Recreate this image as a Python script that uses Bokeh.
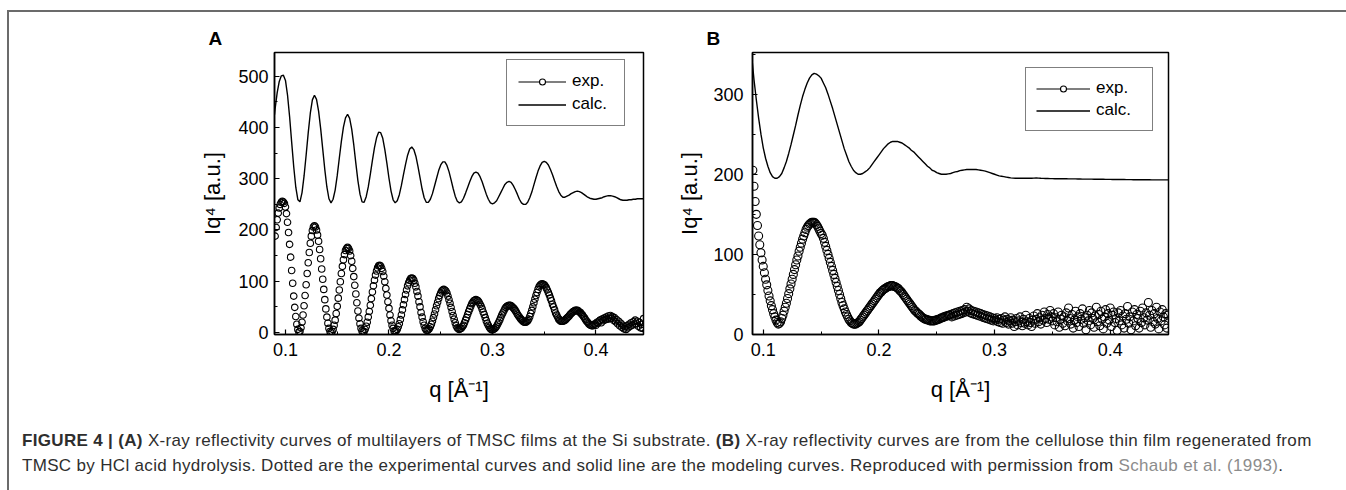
from bokeh.plotting import figure
from bokeh.models import Range1d, SingleIntervalTicker, Legend, LegendItem, Div
from bokeh.layouts import row, column
from bokeh.embed import file_html
from bokeh.resources import INLINE

FONT = "Liberation Sans"

# ---------------- data: panel A (multilayer TMSC) ----------------
EXP_A_Q0 = 0.090      # first measured q (1/A)
EXP_A_DQ = 0.001      # measurement step
exp_a_y = [
    188, 205, 220, 233, 243, 250, 254, 256, 255,
    252, 245, 232, 215, 195, 172, 147, 121, 96, 71, 49, 31, 16, 6, 1,
    2, 9, 20, 34, 52, 72, 93, 115, 136, 156, 174, 188, 199, 206, 208,
    206, 200, 190, 178, 162, 144, 124, 104, 84, 64, 46, 30, 18, 8, 2, 0,
    2, 6, 14, 24, 37, 51, 67, 83, 99, 115, 129, 142, 152, 160, 164, 166,
    164, 159, 150, 139, 125, 109, 92, 75, 58, 42, 28, 17, 8, 3, 1,
    2, 6, 12, 20, 30, 41, 53, 66, 79, 91, 102, 112, 120, 126, 130, 131,
    130, 125, 119, 110, 99, 86, 73, 60, 47, 34, 23, 14, 8, 3, 2,
    3, 6, 11, 17, 25, 34, 44, 54, 64, 74, 83, 91, 97, 102, 105, 106,
    105, 102, 96, 89, 80, 71, 60, 50, 39, 30, 21, 14, 8, 5, 4,
    5, 7, 11, 16, 22, 29, 36, 44, 52, 59, 66, 72, 77, 81, 83, 84,
    83, 81, 77, 71, 64, 57, 49, 41, 33, 26, 19, 13, 9, 7, 6,
    7, 8, 11, 14, 19, 24, 29, 35, 41, 46, 51, 56, 59, 62, 63, 64,
    63, 62, 59, 55, 51, 46, 40, 35, 29, 23, 18, 14, 10, 7, 6, 5,
    6, 7, 9, 12, 16, 20, 24, 29, 34, 38, 42, 46, 49, 51, 52, 53,
    53, 52, 50, 48, 46, 43, 40, 36, 33, 30, 27, 25, 23, 21, 20, 20,
    21, 23, 26, 31, 37, 43, 50, 58, 65, 72, 78, 84, 89, 92, 94, 95,
    94, 93, 91, 87, 83, 78, 73, 67, 62, 55, 50, 44, 38, 34, 30, 26, 24, 22, 22,
    22, 23, 24, 26, 28, 30, 32, 35, 37, 39, 41, 42, 43, 43,
    43, 42, 40, 39, 36, 34, 31, 28, 25, 22, 20, 17, 15, 14, 13, 13,
    15, 17, 14, 20, 18, 22, 24, 19, 26, 23, 28, 25, 30, 26, 32, 27, 33, 28, 31, 24,
    29, 21, 25, 17, 22, 13, 18, 10, 14, 7, 11, 6, 13, 9, 16, 12, 19, 14, 21, 16,
    24, 17, 22, 12, 20, 9, 16, 8, 27,
]

CALC_A_EDGE = (0.0894, 425)   # calculated curve at the left frame edge
CALC_A_Q0 = 0.090
CALC_A_DQ = 0.002
calc_a_y = [
    437, 468, 490, 501, 502,
    492, 463, 421, 371, 323, 283, 259,
    255, 273, 306, 347, 390, 428, 454, 463,
    455, 432, 398, 358, 318, 284, 261, 253,
    260, 278, 306, 340, 373, 401, 419, 426,
    418, 397, 366, 330, 296, 270, 255,
    254, 265, 284, 309, 336, 361, 380, 391,
    390, 379, 357, 330, 301, 276, 259, 253,
    257, 269, 287, 308, 328, 346, 358, 362,
    357, 344, 324, 302, 280, 263, 254,
    254, 260, 271, 286, 301, 316, 327, 333,
    333, 326, 314, 298, 281, 266, 256, 253,
    255, 262, 272, 283, 294, 304, 311, 313,
    311, 304, 294, 282, 270, 260, 253, 251,
    253, 257, 265, 273, 281, 289, 293, 295,
    293, 287, 279, 270, 260, 253, 250,
    250, 254, 263, 274, 288, 302, 315, 325, 332, 334,
    332, 327, 318, 308, 296, 285, 275, 268, 264,
    264, 266, 268, 271, 273, 275, 276,
    275, 273, 270, 267, 264, 262, 261, 260,
    260, 261, 262, 263, 265, 266, 267, 267,
    266, 265, 263, 261, 259, 258, 258,
    258, 259, 259, 260, 260, 261, 261, 261, 261,
]

# ---------------- data: panel B (regenerated cellulose) ----------------
EXP_B_Q0 = 0.091
EXP_B_DQ = 0.001
exp_b_y = [
    205, 185, 166, 150, 136, 123, 112, 102, 93, 85, 77, 69, 62, 55, 48, 42, 36, 31, 26, 22, 18, 15,
    13, 14, 16, 20, 24, 29, 34, 39, 45, 51, 57, 63, 69, 75, 81, 87, 93, 98, 104, 109, 114, 119,
    123, 127, 131, 134, 136, 138, 139, 140, 140, 140, 139, 137, 135, 132, 129, 126, 124, 120,
    115, 110, 105, 100, 95, 90, 85, 80, 75, 70, 65, 60, 55, 50, 45, 40, 36, 32, 28, 25, 22, 19,
    17, 15, 14, 13, 13, 13, 14,
    15, 16, 18, 20, 22, 24, 26, 28, 30, 32,
    34, 36, 38, 40, 42, 44, 46, 48, 50, 52,
    53, 55, 56, 57, 58, 59, 60, 60, 61, 61,
    61, 60, 60, 59, 58, 57, 55, 54, 52, 50,
    48, 46, 44, 42, 40, 38, 36, 34, 32, 30,
    29, 27, 26, 25, 23, 22, 21, 20, 19, 19,
    18, 18, 17, 17, 17, 17, 17, 18, 18, 19,
    19, 20, 21, 21, 22, 22, 23, 23, 24, 24,
    25, 22, 26, 23, 27, 24, 28, 25, 29, 26,
    30, 27, 31, 28, 34, 29, 32, 27, 30, 26,
    29, 25, 28, 24, 27, 23, 26, 22, 25, 21,
    24, 20, 23, 19, 22, 18, 21, 17, 20, 18,
    21, 16, 19, 15, 20, 14, 18, 22, 15, 19,
    13, 17, 21, 14, 18, 10, 16, 20, 12, 17,
    22, 15, 11, 19, 14, 24, 16, 12, 20, 15,
    10, 18, 23, 14, 19, 26, 16, 21, 13, 24,
    18, 28, 20, 15, 25, 19, 30, 22, 17, 26,
    12, 21, 16, 28, 9, 19, 24, 14, 22, 11,
    27, 17, 33, 20, 13, 25, 8, 18, 29, 15,
    22, 10, 26, 19, 32, 14, 21, 6, 24, 17,
    30, 12, 27, 20, 9, 23, 34, 16, 25, 11,
    29, 19, 7, 22, 31, 14, 26, 18, 33, 10,
    24, 28, 15, 20, 5, 27, 17, 30, 12, 23,
    8, 26, 19, 35, 14, 22, 6, 28, 17, 31,
    11, 25, 20, 8, 29, 15, 33, 21, 12, 27,
    18, 40, 24, 9, 30, 16, 26, 13, 34, 20,
    7, 28, 17, 31, 22, 12, 26, 8, 24,
]

CALC_B_EDGE = (0.0905, 340)
CALC_B_Q0 = 0.092
CALC_B_DQ = 0.002
calc_b_y = [
    318, 293, 270, 250, 233, 220, 210, 202, 197, 195, 195,
    197, 201, 208, 216, 226, 237, 249, 261, 274, 286, 297, 306, 314, 320, 324, 326,
    325, 323, 320, 314, 308, 300, 291, 282, 272, 262, 252, 242, 232, 224, 216, 210, 205, 202, 200,
    200, 201, 203, 205, 208, 212, 216, 220, 224, 228, 232, 235, 238, 240, 241, 241,
    241, 240, 239, 237, 235, 233, 230, 228, 225, 222, 219, 216, 213, 210, 208, 205, 204, 202, 201, 200, 200,
    200, 200.5, 201, 202, 203, 203.5, 204.5, 205, 205.5, 206, 206, 206, 206,
    206, 205.5, 205, 204.5, 204, 203, 202, 201, 200, 199, 198, 197.5, 197, 196.5, 196, 195.5, 195.2, 195, 195, 195,
    195, 195, 195, 195, 195, 195.2, 195.3, 195.2,
    195, 194.9, 194.8, 194.7, 194.6, 194.6, 194.5, 194.5, 194.5, 194.5,
    194.4, 194.4, 194.3, 194.3, 194.2, 194.2, 194.1, 194.1, 194, 194,
    194, 193.9, 193.9, 193.8, 193.8, 193.8, 193.7, 193.7, 193.6, 193.6,
    193.6, 193.5, 193.5, 193.5, 193.4, 193.4, 193.4, 193.3, 193.3, 193.3,
    193.2, 193.2, 193.2, 193.2, 193.1, 193.1, 193.1, 193.1, 193, 193,
    193, 193, 193, 193, 193, 193,
]

X_TICK_STEP = 0.1
Y_TICK_STEP = 100
X_LABEL = "q [Å⁻¹]"
Y_LABEL = "Iq⁴ [a.u.]"
LEGEND_LABELS = ["exp.", "calc."]

CAPTION = (
    '<div style="font-family:\'Liberation Sans\',Arial,sans-serif;font-size:17px;'
    'letter-spacing:0.33px;line-height:25px;color:#2e2e2e;padding:3px 0 0 13px;white-space:nowrap;">'
    '<b>FIGURE 4 | (A)</b> X-ray reflectivity curves of multilayers of TMSC films at the Si substrate. '
    '<b>(B)</b> X-ray reflectivity curves are from the cellulose thin film regenerated from<br>'
    'TMSC by HCl acid hydrolysis. Dotted are the experimental curves and solid line are the modeling curves. '
    'Reproduced with permission from <span style="color:#8c8c8c">Schaub et al. (1993)</span>.</div>'
)


def grid(q0, dq, n):
    return [round(q0 + dq * k, 4) for k in range(n)]


def make_panel(letter, width, mb_left, mb_right, mb_bottom, xr, yr,
               exp_q, exp_y, calc_q, calc_y, marker_size, title_offset,
               ylab_standoff, ytick_standoff, leg_loc, leg_glyph_w, leg_label_w,
               leg_pad, leg_spacing):
    p = figure(width=width, height=413, x_range=Range1d(*xr), y_range=Range1d(*yr),
               output_backend="svg", toolbar_location=None, title=letter,
               min_border_left=mb_left, min_border_right=mb_right,
               min_border_top=40, min_border_bottom=mb_bottom)
    p.background_fill_color = "white"
    p.border_fill_color = "white"
    p.outline_line_color = "black"
    p.outline_line_width = 1.5
    p.grid.visible = False

    p.title.text_font = FONT
    p.title.text_font_size = "19px"
    p.title.text_font_style = "bold"
    p.title.text_color = "black"
    p.title.align = "left"
    p.title.offset = title_offset
    p.title.standoff = 8

    for ax in (p.xaxis[0], p.yaxis[0]):
        ax.axis_line_color = "black"
        ax.axis_line_width = 1.5
        ax.major_tick_in = 5
        ax.major_tick_out = 0
        ax.minor_tick_in = 3
        ax.minor_tick_out = 0
        ax.major_tick_line_color = "black"
        ax.major_tick_line_width = 1.2
        ax.minor_tick_line_color = "black"
        ax.minor_tick_line_width = 1.0
        ax.major_label_text_font = FONT
        ax.major_label_text_font_size = "18px"
        ax.major_label_text_color = "black"
        ax.axis_label_text_font = FONT
        ax.axis_label_text_font_size = "22px"
        ax.axis_label_text_font_style = "normal"
        ax.axis_label_text_color = "black"

    p.xaxis.ticker = SingleIntervalTicker(interval=X_TICK_STEP, num_minor_ticks=2)
    p.yaxis.ticker = SingleIntervalTicker(interval=Y_TICK_STEP, num_minor_ticks=2)
    p.xaxis.axis_label = X_LABEL
    p.yaxis.axis_label = Y_LABEL
    p.xaxis.major_label_standoff = 8
    p.xaxis.axis_label_standoff = 18
    p.yaxis.major_label_standoff = ytick_standoff
    p.yaxis.axis_label_standoff = ylab_standoff

    calc_r = p.line(calc_q, calc_y, line_color="black", line_width=1.4)
    p.scatter(exp_q, exp_y, marker="circle", size=marker_size,
              line_color="black", line_width=1.1, fill_color=None)

    # legend-only sample glyphs, placed outside the visible ranges
    off_x, off_y = xr[0] - 1.0, yr[0] - 1000.0
    leg_line = p.line(x=[off_x, off_x - 0.1], y=[off_y, off_y],
                      line_color="black", line_width=1.2)
    leg_mark = p.scatter(x=[off_x], y=[off_y], marker="circle", line_color="black",
                         line_width=1.1, fill_color="white")
    legend = Legend(
        items=[LegendItem(label=LEGEND_LABELS[0], renderers=[leg_line, leg_mark]),
               LegendItem(label=LEGEND_LABELS[1], renderers=[calc_r])],
        location=leg_loc, margin=0, padding=leg_pad, spacing=leg_spacing,
        glyph_width=leg_glyph_w, glyph_height=15, label_height=20,
        label_width=leg_label_w, label_standoff=6,
        label_text_font=FONT, label_text_font_size="17px", label_text_color="black",
        border_line_color="black", border_line_width=1.3,
        background_fill_color="white", background_fill_alpha=1.0,
    )
    p.add_layout(legend)
    return p


exp_a_q = grid(EXP_A_Q0, EXP_A_DQ, len(exp_a_y))
calc_a_q = [CALC_A_EDGE[0]] + grid(CALC_A_Q0, CALC_A_DQ, len(calc_a_y))
calc_a_v = [CALC_A_EDGE[1]] + calc_a_y
exp_b_q = grid(EXP_B_Q0, EXP_B_DQ, len(exp_b_y))
calc_b_q = [CALC_B_EDGE[0]] + grid(CALC_B_Q0, CALC_B_DQ, len(calc_b_y))
calc_b_v = [CALC_B_EDGE[1]] + calc_b_y

pA = make_panel("A", 663, 265, 29, 89, (0.0894, 0.4459), (-4, 546.5),
                exp_a_q, exp_a_y, calc_a_q, calc_a_v, 6.5, -66,
                10, 6, (232, 208), 48, 41, 11, 3)
pB = make_panel("B", 674, 80, 178, 91, (0.0907, 0.4504), (0, 352),
                exp_b_q, exp_b_y, calc_b_q, calc_b_v, 8, -46,
                8, 9, (273, 203), 54, 46, 10, 2)

gray = "#6b6b6b"
blank_top = Div(text="", width=1346, height=10, margin=0)
blank_left = Div(text="", width=7, height=480, margin=0)
vline = Div(text="", width=2, height=480, margin=0, styles={"background-color": gray})
hline = Div(text="", width=1337, height=2, margin=0, styles={"background-color": gray})
caption = Div(text=CAPTION, width=1337, height=65, margin=0)

layout = column(blank_top,
                row(blank_left, vline, column(hline, row(pA, pB), caption)))

open("out.html", "w").write(file_html(layout, INLINE, title="Figure 4"))
